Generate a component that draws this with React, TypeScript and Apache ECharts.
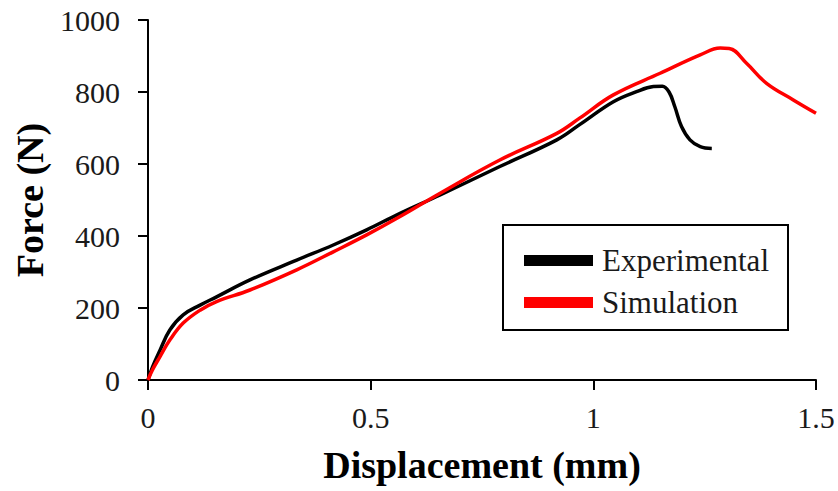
import React, { useEffect, useRef } from "react";
import * as echarts from "echarts";

const xTicks = [0, 0.5, 1, 1.5];
const yTicks = [0, 200, 400, 600, 800, 1000];

const expX = [0, 0.01, 0.027, 0.049, 0.079, 0.117, 0.154, 0.229, 0.334, 0.416, 0.491, 0.566, 0.656, 0.79, 0.918, 0.97, 1.045, 1.097, 1.135, 1.155, 1.17, 1.183, 1.198, 1.217, 1.24, 1.266];
const expY = [0, 36, 83, 139, 181, 208, 231, 278, 333, 375, 417, 463, 514, 593, 667, 710, 773, 801, 815, 816, 800, 759, 704, 667, 648, 643];

const simX = [0, 0.01, 0.027, 0.049, 0.079, 0.117, 0.154, 0.229, 0.334, 0.416, 0.491, 0.566, 0.656, 0.79, 0.918, 0.97, 1.045, 1.15, 1.24, 1.285, 1.305, 1.344, 1.389, 1.449, 1.5];
const simY = [0, 28, 65, 111, 158, 194, 218, 250, 306, 356, 403, 454, 519, 611, 685, 728, 792, 852, 903, 922, 921, 880, 824, 778, 741];

const seriesNames = ["Experimental", "Simulation"];
const seriesColors = ["#000000", "#ff0000"];

const zip = (xs: number[], ys: number[]) => xs.map((x, i) => [x, ys[i]]);

export default function App() {
  const ref = useRef<HTMLDivElement>(null);
  useEffect(() => {
    if (!ref.current) return;
    const chart = echarts.init(ref.current, null, { renderer: "svg" });
    const serif = "Liberation Serif";
    chart.setOption({
      animation: false,
      backgroundColor: "#ffffff",
      grid: { left: 148, right: 22, top: 20, bottom: 111, containLabel: false },
      xAxis: {
        type: "value",
        min: xTicks[0],
        max: xTicks[xTicks.length - 1],
        interval: 0.5,
        name: "Displacement (mm)",
        nameLocation: "middle",
        nameGap: 66,
        nameTextStyle: { fontFamily: serif, fontWeight: "bold", fontSize: 38, color: "#000" },
        axisLine: { lineStyle: { color: "#000", width: 2 } },
        axisTick: { show: true, inside: false, length: 10, lineStyle: { color: "#000", width: 2 } },
        axisLabel: { fontFamily: serif, fontSize: 30, color: "#1a1a1a", margin: 22, formatter: (v: number) => String(v) },
        splitLine: { show: false },
      },
      yAxis: {
        type: "value",
        min: yTicks[0],
        max: yTicks[yTicks.length - 1],
        interval: 200,
        name: "Force (N)",
        nameLocation: "middle",
        nameGap: 98,
        nameRotate: 90,
        nameTextStyle: { fontFamily: serif, fontWeight: "bold", fontSize: 38, color: "#000" },
        axisLine: { show: true, lineStyle: { color: "#000", width: 2 } },
        axisTick: { show: true, inside: false, length: 10, lineStyle: { color: "#000", width: 2 } },
        axisLabel: { fontFamily: serif, fontSize: 30, color: "#1a1a1a", margin: 28, formatter: (v: number) => String(v) },
        splitLine: { show: false },
      },
      legend: {
        left: 519,
        top: 240,
        orient: "vertical",
        itemWidth: 69,
        itemHeight: 11,
        itemGap: 11,
        icon: "rect",
        textStyle: { fontFamily: serif, fontSize: 31, color: "#1a1a1a", padding: [0, 0, 0, 4] },
        data: seriesNames,
      },
      graphic: [
        {
          type: "rect",
          shape: { x: 503, y: 225, width: 285, height: 105 },
          style: { fill: "none", stroke: "#000", lineWidth: 2 },
          z: 10,
        },
      ],
      series: [
        {
          name: seriesNames[0],
          type: "line",
          data: zip(expX, expY),
          showSymbol: false,
          smooth: 0.4,
          lineStyle: { color: seriesColors[0], width: 3.5 },
          itemStyle: { color: seriesColors[0] },
        },
        {
          name: seriesNames[1],
          type: "line",
          data: zip(simX, simY),
          showSymbol: false,
          smooth: 0.4,
          lineStyle: { color: seriesColors[1], width: 3.5 },
          itemStyle: { color: seriesColors[1] },
        },
      ],
    });
    return () => chart.dispose();
  }, []);
  return (
    <div
      ref={ref}
      style={{ position: "fixed", left: 0, top: 0, width: 838, height: 491 }}
    />
  );
}
